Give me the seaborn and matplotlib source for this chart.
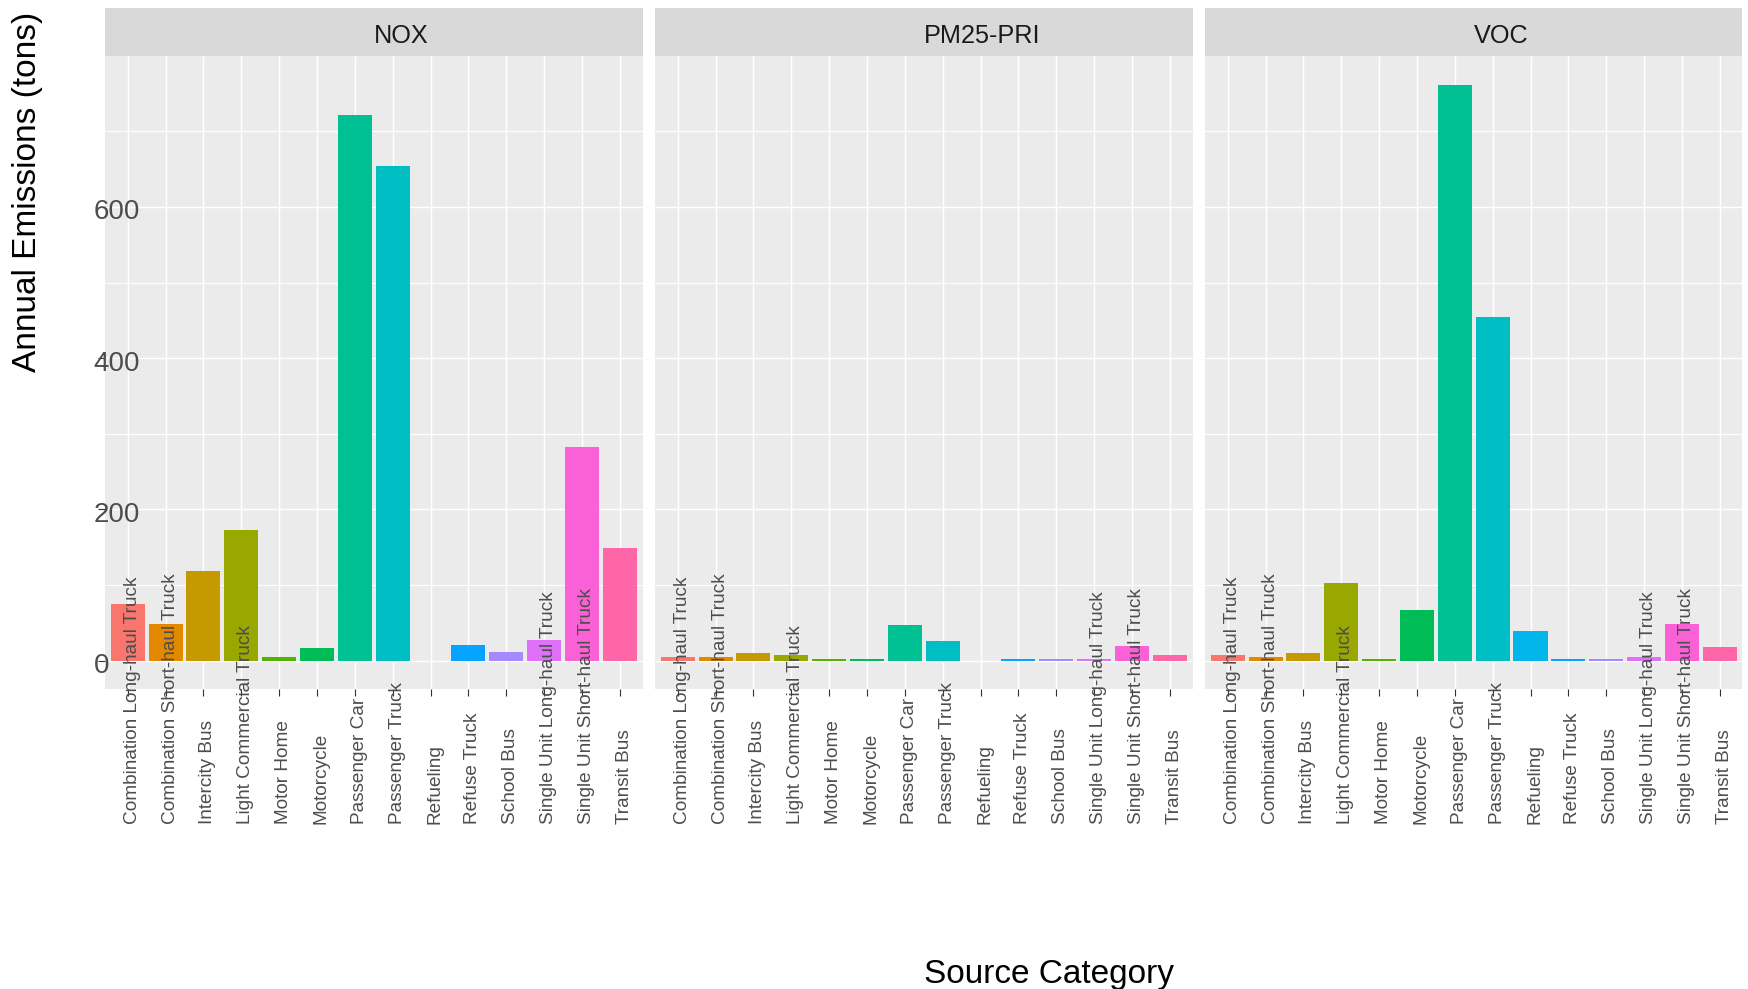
import numpy as np
import pandas as pd
import matplotlib
matplotlib.use("Agg")
import matplotlib.pyplot as plt
import matplotlib.transforms as mtransforms
import seaborn as sns

# ---- data -------------------------------------------------------------
categories = [
    "Combination Long-haul Truck", "Combination Short-haul Truck", "Intercity Bus",
    "Light Commercial Truck", "Motor Home", "Motorcycle", "Passenger Car",
    "Passenger Truck", "Refueling", "Refuse Truck", "School Bus",
    "Single Unit Long-haul Truck", "Single Unit Short-haul Truck", "Transit Bus",
]
pollutants = ["NOX", "PM25-PRI", "VOC"]
nox_tons = [75, 48, 118, 172, 5, 17, 721, 654, 0, 21, 11, 27, 283, 149]
pm25_tons = [5, 5, 10, 7, 2, 2, 47, 26, 0, 2, 2, 2, 19, 7]
voc_tons = [7, 5, 10, 102, 2, 67, 762, 455, 39, 2, 2, 5, 48, 18]
y_ticks = [0, 200, 400, 600]
y_minor = [100, 300, 500, 700]

hue_colors = ["#F8766D", "#E38900", "#C49A00", "#99A800", "#53B400", "#00BC56",
              "#00C094", "#00BFC4", "#00B6EB", "#06A4FF", "#A58AFF", "#DF70F8",
              "#FB61D7", "#FF66A8"]
palette = dict(zip(categories, hue_colors))

df = pd.concat([
    pd.DataFrame({"pollutant": p, "category": categories, "tons": v})
    for p, v in zip(pollutants, [nox_tons, pm25_tons, voc_tons])
], ignore_index=True)

# ---- styling ----------------------------------------------------------
sns.set_style("white")
plt.rcParams["font.family"] = ["Liberation Sans", "DejaVu Sans"]

W, H = 1749, 989
fig = plt.figure(figsize=(W / 100, H / 100), dpi=100)


def fx(px):
    return px / W


def fy(py):
    return 1 - py / H


panel_lefts = [105, 655, 1205]
panel_w = 537.5
panel_top, panel_bottom, strip_top = 55.7, 689.3, 8.0
ymax = max(max(nox_tons), max(pm25_tons), max(voc_tons))
ylo, yhi = -0.05 * ymax, 1.05 * ymax

for i, (pol, left) in enumerate(zip(pollutants, panel_lefts)):
    ax = fig.add_axes([fx(left), fy(panel_bottom), panel_w / W,
                       (panel_bottom - panel_top) / H])
    sub = df[df["pollutant"] == pol]
    sns.barplot(data=sub, x="category", y="tons", hue="category",
                order=categories, hue_order=categories, palette=palette,
                dodge=False, width=0.9, saturation=1, legend=False,
                errorbar=None, ax=ax, linewidth=0)
    ax.set_xlim(-0.6, len(categories) - 0.4)
    ax.set_ylim(ylo, yhi)
    ax.set_facecolor("#EBEBEB")
    for s in ax.spines.values():
        s.set_visible(False)
    ax.set_yticks(y_ticks)
    ax.set_yticks(y_minor, minor=True)
    ax.set_axisbelow(True)
    ax.grid(which="major", color="white", linewidth=1.05)
    ax.grid(which="minor", axis="y", color="white", linewidth=0.8)
    ax.tick_params(axis="x", which="major", length=4.7, width=0.8,
                   color="#333333", labelbottom=False, bottom=True)
    ax.tick_params(axis="y", which="major", length=4.7 if i == 0 else 0,
                   width=0.8, color="#333333", labelleft=False, left=(i == 0))
    ax.tick_params(axis="y", which="minor", length=0)
    ax.set_xlabel("")
    ax.set_ylabel("")

    # facet strip
    sax = fig.add_axes([fx(left), fy(panel_top), panel_w / W,
                        (panel_top - strip_top) / H])
    sax.set_facecolor("#D9D9D9")
    sax.set_xticks([])
    sax.set_yticks([])
    for s in sax.spines.values():
        s.set_visible(False)
    fig.text(fx(left + panel_w / 2), fy(43.3), pol, ha="left", va="baseline",
             fontsize=18.2, color="#1A1A1A")

    # category labels, rotated and starting below the panel
    xtrans = mtransforms.offset_copy(
        mtransforms.blended_transform_factory(ax.transData, fig.transFigure),
        fig=fig, x=9, y=0, units="dots")
    for j, cat in enumerate(categories):
        ax.text(j, fy(823.5), cat, transform=xtrans, rotation=90,
                rotation_mode="anchor", ha="left", va="baseline",
                fontsize=13.7, color="#4D4D4D", clip_on=False, zorder=5)

    # value labels on the first panel only
    if i == 0:
        ytrans = mtransforms.offset_copy(
            mtransforms.blended_transform_factory(fig.transFigure, ax.transData),
            fig=fig, x=0, y=-12.5, units="dots")
        for v in y_ticks:
            ax.text(fx(93.5), v, f"{v}", transform=ytrans, ha="left",
                    va="baseline", fontsize=20, color="#4D4D4D",
                    clip_on=False, zorder=5)

fig.text(fx(36), fy(372.5), "Annual Emissions (tons)", rotation=90,
         rotation_mode="anchor", ha="left", va="baseline", fontsize=24,
         color="black")
fig.text(fx(924), fy(982.7), "Source Category", ha="left", va="baseline",
         fontsize=24, color="black")

fig.savefig("out.png", dpi=100, facecolor="white")
